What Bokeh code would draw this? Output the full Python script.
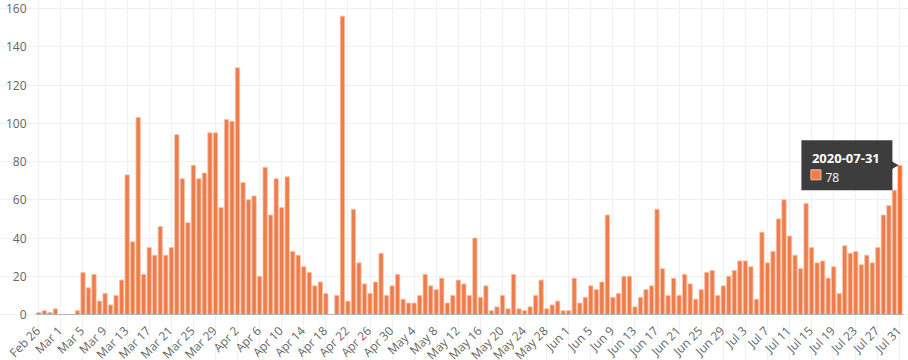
import numpy as np
import pandas as pd
from bokeh.plotting import figure
from bokeh.models import FixedTicker, Range1d, ColumnDataSource, Grid
from bokeh.core.properties import value
from bokeh.embed import file_html
from bokeh.resources import INLINE

# ---- data -------------------------------------------------------------
start_date = "2020-02-26"
end_date = "2020-07-31"

feb = [1, 2, 1, 3]
mar = [0, 0, 0, 2, 22, 14, 21, 7, 11, 5, 10, 18, 73, 38, 103, 21, 35, 31, 46, 31,
       35, 94, 71, 48, 78, 71, 74, 95, 95, 56, 102]
apr = [101, 129, 69, 60, 62, 20, 77, 52, 71, 56, 72, 33, 31, 25, 22, 15, 17, 11, 0, 10,
       156, 7, 55, 27, 16, 11, 17, 32, 10, 15]
may = [21, 8, 6, 6, 10, 21, 15, 13, 19, 6, 10, 18, 16, 10, 40, 9, 15, 2, 4, 10,
       3, 21, 3, 2, 4, 10, 18, 3, 5, 7, 2]
jun = [2, 19, 6, 9, 15, 13, 17, 52, 9, 11, 20, 20, 4, 9, 13, 15, 55, 24, 10, 19,
       10, 21, 16, 8, 13, 22, 23, 10, 15, 20]
jul = [23, 28, 28, 25, 8, 43, 27, 33, 50, 60, 41, 31, 24, 58, 35, 27, 28, 19, 25, 11,
       36, 32, 33, 26, 31, 27, 35, 52, 57, 65, 78]

cases = feb + mar + apr + may + jun + jul
dates = pd.date_range(start_date, end_date, freq="D")
n = len(cases)
assert len(dates) == n

idx = list(range(n))
tick_idx = idx[::4]
tick_labels = [f"{dates[i].strftime('%b')} {dates[i].day}" for i in tick_idx]
y_ticks = list(range(0, 161, 20))
y_min, y_max = 0, 160

# ---- style / layout ---------------------------------------------------
BAR = "#ef7c4b"
BAR_EDGE = "#f7c2a6"
HILITE = "#ff6a2b"
GRID = "#eef0f3"
AXIS = "#b4b4b4"
TXT = "#666666"
FONT = "Open Sans"

W, H = 908, 360
PL, PR, PT, PB = 35, 5, 8, 46          # plot-area insets inside the canvas
x_lo, x_hi = -0.6, n - 1 + 0.65        # plot-area x extent (days)
px_day = (W - PL - PR) / (x_hi - x_lo)
px_unit = (H - PT - PB) / (y_max - y_min)

colors = [BAR] * (n - 1) + [HILITE]
src = ColumnDataSource(dict(x=idx, y=cases, c=colors))

# the frame covers the whole canvas so that the rotated date labels and the
# value labels (drawn as text in data space) are not clipped
p = figure(width=W, height=H, output_backend="svg", toolbar_location=None,
           x_range=Range1d(x_lo - PL / px_day, x_hi + PR / px_day),
           y_range=Range1d(y_min - PB / px_unit, y_max + PT / px_unit),
           x_axis_location=None, y_axis_location=None, min_border=0)
p.outline_line_color = None
p.background_fill_color = "white"
p.grid.visible = False

p.add_layout(Grid(dimension=0, ticker=FixedTicker(ticks=tick_idx),
                  bounds=(y_min, y_max), grid_line_color=GRID))
p.add_layout(Grid(dimension=1, ticker=FixedTicker(ticks=y_ticks),
                  bounds=(x_lo, x_hi), grid_line_color=GRID))

p.vbar(x="x", top="y", width=0.78, source=src, fill_color="c",
       line_color=BAR_EDGE, line_width=0.8)

# x axis base line
p.segment(x0=[x_lo], x1=[x_hi], y0=[y_min], y1=[y_min], line_color=AXIS, line_width=1)

# y tick labels
p.text(x=[x_lo] * len(y_ticks), y=y_ticks, text=[str(t) for t in y_ticks],
       x_offset=-9, text_font=value(FONT), text_font_size="12px",
       text_color=TXT, text_align="right", text_baseline="middle")

# rotated date labels
p.text(x=tick_idx, y=[y_min] * len(tick_idx), text=tick_labels, angle=np.pi / 4,
       x_offset=-1, y_offset=14, text_font=value(FONT), text_font_size="12px",
       text_color=TXT, text_align="right", text_baseline="middle")

# ---- tooltip (static) anchored at the last data point ------------------
lx, ly = idx[-1], cases[-1]
label_date = dates[-1].strftime("%Y-%m-%d")

p.rect(x=[lx - 53 / px_day], y=[ly], width=91, height=50,
       width_units="screen", height_units="screen",
       fill_color="#333333", fill_alpha=0.95, line_color=None)
p.scatter(x=[lx - 6.5 / px_day], y=[ly], marker="triangle", size=9,
          angle=-np.pi / 2, fill_color="#333333", fill_alpha=0.95, line_color=None)
p.text(x=[lx], y=[ly], text=[label_date], x_offset=-88, y_offset=-6.5,
       text_font=value(FONT), text_font_style="bold", text_font_size="13px",
       text_color="white", text_align="left", text_baseline="alphabetic")
p.scatter(x=[lx - 84 / px_day], y=[ly - 9.5 / px_unit], marker="square", size=10,
          fill_color=BAR, line_color=BAR_EDGE, line_width=1)
p.text(x=[lx], y=[ly], text=[str(ly)], x_offset=-74.5, y_offset=12,
       text_font=value(FONT), text_font_size="12px",
       text_color="white", text_align="left", text_baseline="alphabetic")

open("out.html", "w").write(file_html(p, INLINE))
